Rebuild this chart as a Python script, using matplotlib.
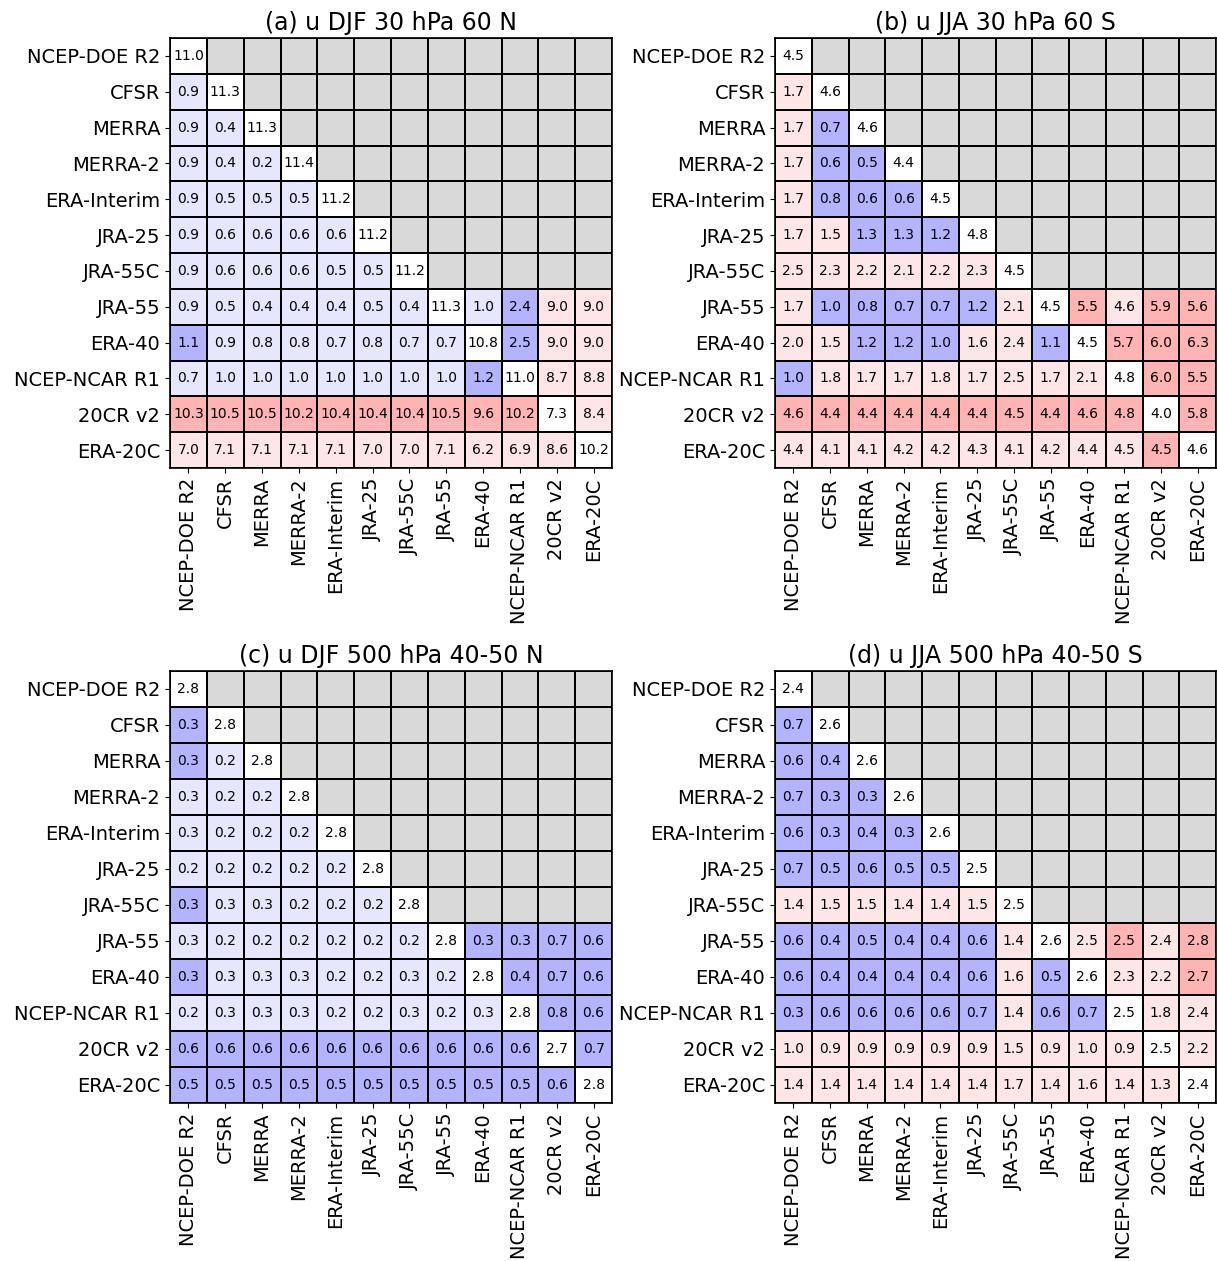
import numpy as np
import matplotlib
matplotlib.use("Agg")
import matplotlib.pyplot as plt
from matplotlib.colors import ListedColormap, BoundaryNorm

names = ["NCEP-DOE R2", "CFSR", "MERRA", "MERRA-2", "ERA-Interim", "JRA-25",
         "JRA-55C", "JRA-55", "ERA-40", "NCEP-NCAR R1", "20CR v2", "ERA-20C"]

titles = ["(a) u DJF 30 hPa 60 N", "(b) u JJA 30 hPa 60 S",
          "(c) u DJF 500 hPa 40-50 N", "(d) u JJA 500 hPa 40-50 S"]

# values (row by row; rows 0-6 lower triangle incl. diagonal, rows 7-11 full)
vals_a = [
    [11.0],
    [0.9, 11.3],
    [0.9, 0.4, 11.3],
    [0.9, 0.4, 0.2, 11.4],
    [0.9, 0.5, 0.5, 0.5, 11.2],
    [0.9, 0.6, 0.6, 0.6, 0.6, 11.2],
    [0.9, 0.6, 0.6, 0.6, 0.5, 0.5, 11.2],
    [0.9, 0.5, 0.4, 0.4, 0.4, 0.5, 0.4, 11.3, 1.0, 2.4, 9.0, 9.0],
    [1.1, 0.9, 0.8, 0.8, 0.7, 0.8, 0.7, 0.7, 10.8, 2.5, 9.0, 9.0],
    [0.7, 1.0, 1.0, 1.0, 1.0, 1.0, 1.0, 1.0, 1.2, 11.0, 8.7, 8.8],
    [10.3, 10.5, 10.5, 10.2, 10.4, 10.4, 10.4, 10.5, 9.6, 10.2, 7.3, 8.4],
    [7.0, 7.1, 7.1, 7.1, 7.1, 7.0, 7.0, 7.1, 6.2, 6.9, 8.6, 10.2],
]
vals_b = [
    [4.5],
    [1.7, 4.6],
    [1.7, 0.7, 4.6],
    [1.7, 0.6, 0.5, 4.4],
    [1.7, 0.8, 0.6, 0.6, 4.5],
    [1.7, 1.5, 1.3, 1.3, 1.2, 4.8],
    [2.5, 2.3, 2.2, 2.1, 2.2, 2.3, 4.5],
    [1.7, 1.0, 0.8, 0.7, 0.7, 1.2, 2.1, 4.5, 5.5, 4.6, 5.9, 5.6],
    [2.0, 1.5, 1.2, 1.2, 1.0, 1.6, 2.4, 1.1, 4.5, 5.7, 6.0, 6.3],
    [1.0, 1.8, 1.7, 1.7, 1.8, 1.7, 2.5, 1.7, 2.1, 4.8, 6.0, 5.5],
    [4.6, 4.4, 4.4, 4.4, 4.4, 4.4, 4.5, 4.4, 4.6, 4.8, 4.0, 5.8],
    [4.4, 4.1, 4.1, 4.2, 4.2, 4.3, 4.1, 4.2, 4.4, 4.5, 4.5, 4.6],
]
vals_c = [
    [2.8],
    [0.3, 2.8],
    [0.3, 0.2, 2.8],
    [0.3, 0.2, 0.2, 2.8],
    [0.3, 0.2, 0.2, 0.2, 2.8],
    [0.2, 0.2, 0.2, 0.2, 0.2, 2.8],
    [0.3, 0.3, 0.3, 0.2, 0.2, 0.2, 2.8],
    [0.3, 0.2, 0.2, 0.2, 0.2, 0.2, 0.2, 2.8, 0.3, 0.3, 0.7, 0.6],
    [0.3, 0.3, 0.3, 0.3, 0.2, 0.2, 0.3, 0.2, 2.8, 0.4, 0.7, 0.6],
    [0.2, 0.3, 0.3, 0.3, 0.2, 0.2, 0.3, 0.2, 0.3, 2.8, 0.8, 0.6],
    [0.6, 0.6, 0.6, 0.6, 0.6, 0.6, 0.6, 0.6, 0.6, 0.6, 2.7, 0.7],
    [0.5, 0.5, 0.5, 0.5, 0.5, 0.5, 0.5, 0.5, 0.5, 0.5, 0.6, 2.8],
]
vals_d = [
    [2.4],
    [0.7, 2.6],
    [0.6, 0.4, 2.6],
    [0.7, 0.3, 0.3, 2.6],
    [0.6, 0.3, 0.4, 0.3, 2.6],
    [0.7, 0.5, 0.6, 0.5, 0.5, 2.5],
    [1.4, 1.5, 1.5, 1.4, 1.4, 1.5, 2.5],
    [0.6, 0.4, 0.5, 0.4, 0.4, 0.6, 1.4, 2.6, 2.5, 2.5, 2.4, 2.8],
    [0.6, 0.4, 0.4, 0.4, 0.4, 0.6, 1.6, 0.5, 2.6, 2.3, 2.2, 2.7],
    [0.3, 0.6, 0.6, 0.6, 0.6, 0.7, 1.4, 0.6, 0.7, 2.5, 1.8, 2.4],
    [1.0, 0.9, 0.9, 0.9, 0.9, 0.9, 1.5, 0.9, 1.0, 0.9, 2.5, 2.2],
    [1.4, 1.4, 1.4, 1.4, 1.4, 1.4, 1.7, 1.4, 1.6, 1.4, 1.3, 2.4],
]

# colour class per cell: W diagonal, L light blue, B blue, p light pink, P pink
cls_a = ["W", "LW", "LLW", "LLLW", "LLLLW", "LLLLLW", "LLLLLLW",
         "LLLLLLLWLBpp", "BLLLLLLLWBpp", "LLLLLLLLBWpp",
         "PPPPPPPPPPWp", "pppppppppppW"]
cls_b = ["W", "pW", "pBW", "pBBW", "pBBBW", "ppBBBW", "ppppppW",
         "pBBBBBpWPpPP", "ppBBBppBWPPP", "BppppppppWPP",
         "PPPPPPPPPPWP", "ppppppppppPW"]
cls_c = ["W", "BW", "BLW", "LLLW", "LLLLW", "LLLLLW", "BLLLLLW",
         "LLLLLLLWBBBB", "BLLLLLLLWBBB", "LLLLLLLLLWBB",
         "BBBBBBBBBBWB", "BBBBBBBBBBBW"]
cls_d = ["W", "BW", "BBW", "BBBW", "BBBBW", "BBBBBW", "ppppppW",
         "BBBBBBpWpPpP", "BBBBBBpBWppP", "BBBBBBpBBWpp",
         "ppppppppppWp", "pppppppppppW"]

code = {"W": 0, "L": 1, "B": 2, "p": 3, "P": 4}
cmap = ListedColormap(["#ffffff", "#e6e6ff", "#b3b3ff", "#ffe6e6", "#ffb3b3", "#d9d9d9"])
norm = BoundaryNorm(np.arange(-0.5, 6.5, 1), cmap.N)

fig = plt.figure(figsize=(12.17, 12.61), dpi=100)
W, H = 1217.0, 1261.0
boxes = [(170, 38, 612, 468), (775, 38, 1216, 468),
         (170, 671, 612, 1103), (775, 671, 1216, 1103)]

n = len(names)
for (x0, y0, x1, y1), title, vals, cls in zip(
        boxes, titles, [vals_a, vals_b, vals_c, vals_d], [cls_a, cls_b, cls_c, cls_d]):
    ax = fig.add_axes([x0 / W, 1 - y1 / H, (x1 - x0) / W, (y1 - y0) / H])
    grid = np.full((n, n), 5)
    for i, row in enumerate(cls):
        for j, c in enumerate(row):
            grid[i, j] = code[c]
    ax.pcolormesh(np.arange(n + 1) - 0.5, np.arange(n + 1) - 0.5, grid,
                  cmap=cmap, norm=norm, edgecolors="black", linewidth=1.1)
    for i, row in enumerate(vals):
        for j, v in enumerate(row):
            ax.text(j, i, f"{v:.1f}", ha="center", va="center", fontsize=10)
    ax.set_xlim(-0.5, n - 0.5)
    ax.set_ylim(n - 0.5, -0.5)
    ax.set_xticks(np.arange(n))
    ax.set_yticks(np.arange(n))
    ax.set_xticklabels(names, rotation=90, fontsize=14)
    ax.set_yticklabels(names, fontsize=14)
    ax.set_title(title, fontsize=17)
    for s in ax.spines.values():
        s.set_linewidth(1.2)

fig.savefig("out.png", dpi=100)
